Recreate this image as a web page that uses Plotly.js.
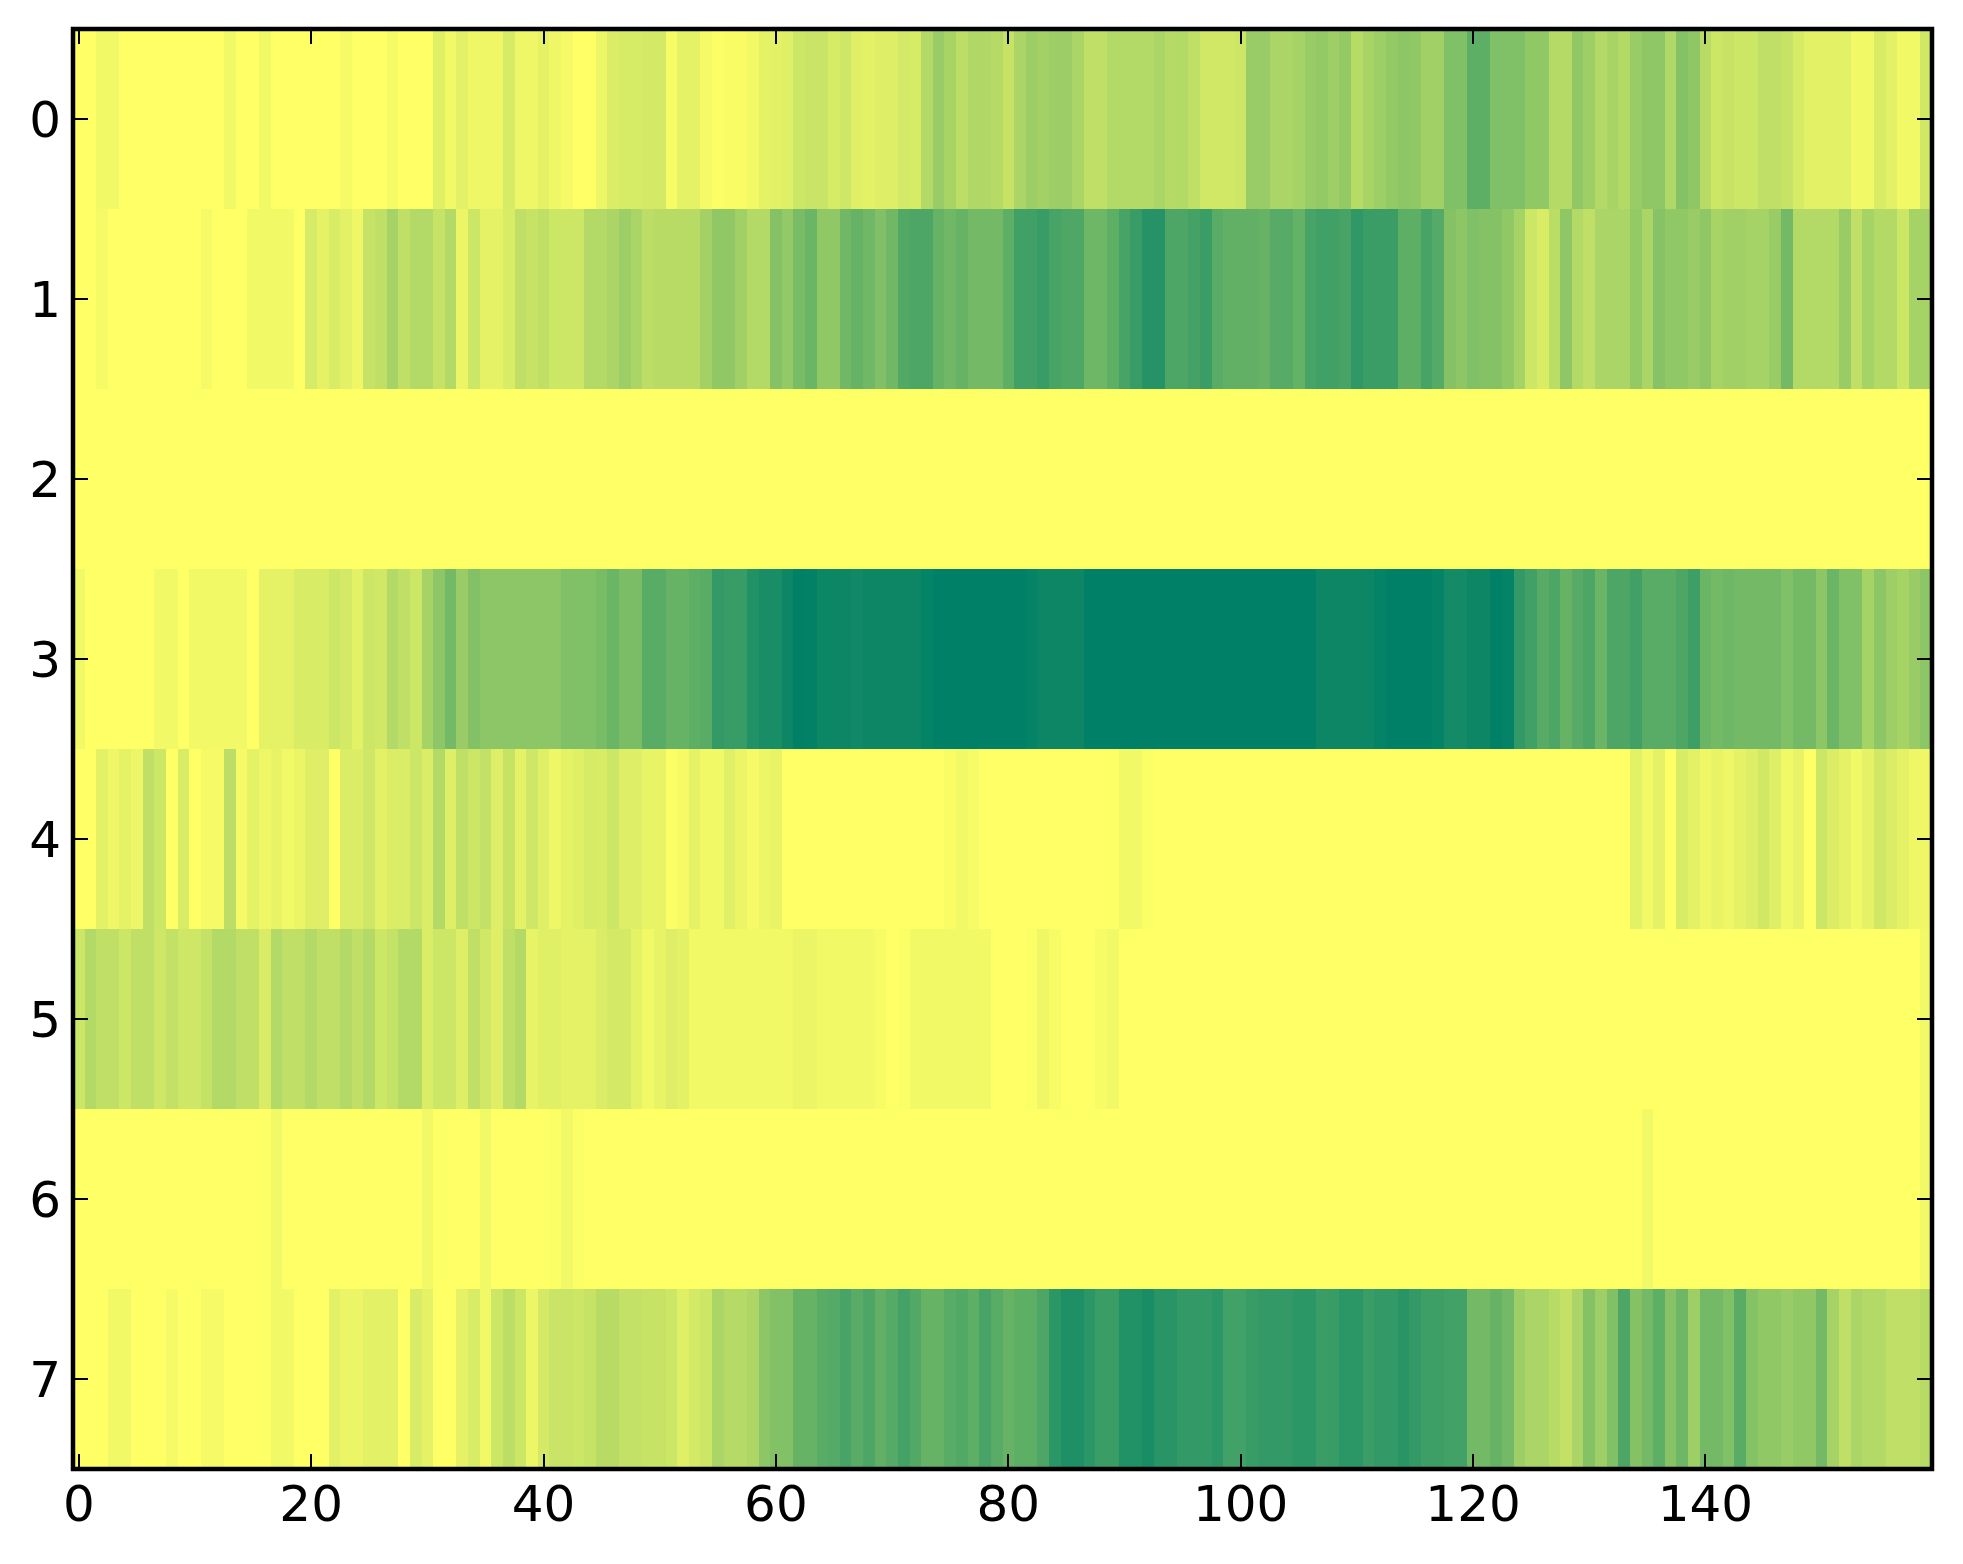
<!DOCTYPE html>
<html>
<head>
<meta charset="utf-8">
<script src="https://cdn.plot.ly/plotly-3.0.1.min.js"></script>
<style>html,body{margin:0;padding:0;background:#fff}</style>
</head>
<body>
<div id="chart" style="width:1963px;height:1564px"></div>
<script>
const columns = Array.from({length: 160}, (_, i) => i);
const rowLabels = [0, 1, 2, 3, 4, 5, 6, 7];
const xTicks = [0, 20, 40, 60, 80, 100, 120, 140];

const row0 = [
0,0,.05,.05,0,0,0,0,0,0,
0,0,0,.05,0,0,.05,0,0,0,
0,0,0,.04,0,0,0,.04,0,0,
0,.12,.05,.11,.06,.06,.06,.16,.06,.06,
.1,.06,.04,0,0,.07,.14,.16,.16,.17,
.17,.03,.1,.1,.04,.01,.02,.02,.05,.1,
.11,.12,.2,.21,.21,.16,.19,.12,.11,.13,
.13,.17,.16,.3,.4,.34,.26,.31,.31,.29,
.22,.33,.39,.36,.39,.39,.33,.25,.25,.3,
.3,.3,.3,.33,.29,.3,.25,.18,.18,.18,
.2,.4,.4,.33,.33,.35,.4,.42,.38,.42,
.28,.34,.38,.42,.45,.43,.37,.37,.5,.5,
.63,.63,.5,.5,.5,.43,.43,.29,.29,.43,
.38,.3,.34,.3,.4,.44,.44,.31,.48,.44,
.28,.2,.22,.2,.2,.25,.25,.22,.16,.11,
.11,.11,.11,.05,.05,.15,.11,.05,.05,.18];
const row1 = [
0,0,.04,0,0,0,0,0,0,0,
0,.04,0,0,0,.05,.05,.05,.05,0,
.16,.1,.15,.11,.06,.22,.25,.35,.25,.3,
.3,.22,.3,.08,.2,.1,.1,.15,.25,.22,
.25,.2,.2,.2,.3,.3,.33,.38,.33,.26,
.28,.28,.28,.28,.36,.43,.43,.37,.3,.3,
.48,.42,.53,.58,.43,.43,.56,.6,.56,.5,
.56,.68,.7,.7,.6,.56,.6,.55,.55,.55,
.63,.75,.75,.78,.72,.69,.69,.57,.57,.63,
.72,.78,.85,.85,.7,.7,.73,.77,.65,.62,
.62,.62,.6,.66,.66,.61,.72,.75,.75,.72,
.81,.77,.77,.77,.63,.63,.72,.67,.48,.45,
.5,.48,.48,.43,.35,.2,.15,.27,.44,.3,
.25,.33,.33,.33,.42,.33,.47,.43,.43,.4,
.44,.34,.37,.37,.35,.35,.4,.55,.3,.3,
.3,.3,.4,.25,.35,.3,.3,.2,.35,.35];
const row2 = [
0,0,0,0,0,0,0,0,0,0,
0,0,0,0,0,0,0,0,0,0,
0,0,0,0,0,0,0,0,0,0,
0,0,0,0,0,0,0,0,0,0,
0,0,0,0,0,0,0,0,0,0,
0,0,0,0,0,0,0,0,0,0,
0,0,0,0,0,0,0,0,0,0,
0,0,0,0,0,0,0,0,0,0,
0,0,0,0,0,0,0,0,0,0,
0,0,0,0,0,0,0,0,0,0,
0,0,0,0,0,0,0,0,0,0,
0,0,0,0,0,0,0,0,0,0,
0,0,0,0,0,0,0,0,0,0,
0,0,0,0,0,0,0,0,0,0,
0,0,0,0,0,0,0,0,0,0,
0,0,0,0,0,0,0,0,0,0];
const row3 = [
.05,0,0,0,0,0,0,.05,.05,0,
.05,.05,.05,.05,.05,0,.1,.1,.1,.15,
.15,.15,.2,.17,.11,.2,.18,.3,.25,.2,
.35,.45,.55,.4,.49,.45,.45,.45,.45,.45,
.45,.45,.5,.5,.5,.53,.58,.52,.52,.65,
.65,.6,.6,.63,.65,.8,.78,.78,.87,.9,
.9,.95,1,.99,.95,.95,.95,.93,.95,.95,
.95,.95,.95,.98,1,1,1,1,1,1,
1,1,.98,.95,.95,.95,.95,1,1,1,
1,1,1,1,1,1,1,1,1,1,
1,1,1,1,1,1,1,.95,.95,.95,
.95,.95,.98,1,1,1,1,.98,.92,.92,
.95,.95,1,.98,.8,.75,.66,.7,.6,.66,
.7,.58,.7,.7,.75,.65,.65,.65,.7,.76,
.58,.55,.57,.55,.55,.55,.55,.5,.55,.55,
.45,.58,.5,.5,.35,.45,.38,.35,.4,.45];
const row4 = [
0,0,.11,.06,.1,.07,.25,.2,0,.15,
0,.04,.04,.26,.04,.1,.06,.09,.05,.08,
.13,.13,0,.14,.14,.19,.11,.14,.14,.2,
.14,.3,.13,.25,.2,.24,.13,.22,.1,.19,
.12,.06,.1,.12,.16,.15,.2,.13,.13,.09,
.09,.01,.04,.1,.05,.05,.12,.08,.04,.07,
.09,0,0,0,0,0,0,0,0,0,
0,0,0,0,0,.02,.05,.03,0,0,
0,0,0,0,0,0,0,0,0,0,
.05,.05,.01,0,0,0,0,0,0,0,
0,0,0,0,0,0,0,0,0,0,
0,0,0,0,0,0,0,0,0,0,
0,0,0,0,0,0,0,0,0,0,
0,0,0,0,.11,.05,.1,0,.15,.11,
.06,.09,.06,.1,.13,.18,.13,.05,.09,0,
.2,.14,.1,.05,.1,.18,.14,.1,.06,.06];
const row5 = [
.2,.3,.25,.25,.2,.25,.25,.19,.24,.19,
.19,.23,.3,.3,.25,.25,.15,.3,.25,.25,
.3,.25,.25,.3,.25,.3,.2,.23,.3,.3,
.14,.2,.2,.13,.25,.18,.13,.25,.3,.09,
.12,.12,.1,.1,.1,.14,.17,.17,.1,.05,
.09,.13,.11,.05,.05,.05,.05,.05,.05,.05,
.05,.05,.08,.08,.05,.05,.05,.05,.05,.03,
0,.01,.05,.05,.05,.05,.05,.05,.05,0,
0,0,.01,.06,.03,0,0,0,.03,.05,
0,0,0,0,0,0,0,0,0,0,
0,0,0,0,0,0,0,0,0,0,
0,0,0,0,0,0,0,0,0,0,
0,0,0,0,0,0,0,0,0,0,
0,0,0,0,0,0,0,0,0,0,
0,0,0,0,0,0,0,0,0,0,
0,0,0,0,0,0,0,0,0,.05];
const row6 = [
0,0,0,0,0,0,0,0,0,0,
0,0,0,0,0,0,0,.05,0,0,
0,0,0,0,0,0,0,0,0,0,
.05,0,0,0,0,.05,0,0,0,0,
0,.01,.05,.01,0,0,0,0,0,0,
0,0,0,0,0,0,0,0,0,0,
0,0,0,0,0,0,0,0,0,0,
0,0,0,0,0,0,0,0,0,0,
0,0,0,0,0,0,0,0,0,0,
0,0,0,0,0,0,0,0,0,0,
0,0,0,0,0,0,0,0,0,0,
0,0,0,0,0,0,0,0,0,0,
0,0,0,0,0,0,0,0,0,0,
0,0,0,0,0,.05,0,0,0,0,
0,0,0,0,0,0,0,0,0,0,
0,0,0,0,0,0,0,0,0,.05];
const row7 = [
0,0,0,.05,.05,0,0,0,.04,0,
0,.04,.04,0,0,0,0,.05,.05,0,
0,0,.11,.08,.08,.11,.11,.11,0,.15,
.1,0,0,.1,.15,.05,.2,.26,.2,.07,
.17,.21,.21,.2,.22,.28,.28,.24,.24,.22,
.22,.2,.12,.17,.2,.33,.29,.29,.32,.45,
.49,.49,.6,.6,.65,.67,.72,.65,.7,.62,
.67,.73,.68,.6,.6,.65,.68,.63,.72,.65,
.6,.63,.63,.7,.83,.88,.88,.83,.77,.77,
.87,.87,.9,.84,.84,.8,.8,.8,.83,.74,
.74,.78,.8,.8,.8,.83,.83,.77,.78,.83,
.83,.77,.8,.8,.84,.8,.76,.76,.74,.74,
.55,.55,.6,.55,.38,.33,.33,.28,.24,.33,
.48,.38,.5,.7,.48,.55,.63,.47,.57,.38,
.55,.55,.5,.65,.48,.43,.43,.4,.43,.43,
.55,.35,.25,.33,.3,.3,.25,.25,.25,.28];

const axisFont = {family: '"DejaVu Sans", sans-serif', size: 50, color: '#000'};

Plotly.newPlot('chart', [{
  type: 'heatmap',
  x: columns,
  y: rowLabels,
  z: [row0, row1, row2, row3, row4, row5, row6, row7],
  zmin: 0,
  zmax: 1,
  zsmooth: false,
  showscale: false,
  colorscale: [[0, 'rgb(255,255,102)'], [1, 'rgb(0,128,102)']],
  hoverinfo: 'skip'
}], {
  width: 1963,
  height: 1564,
  margin: {l: 73, r: 31, t: 29, b: 95, pad: 0},
  paper_bgcolor: '#fff',
  plot_bgcolor: '#fff',
  shapes: [{
    type: 'rect', xref: 'paper', yref: 'paper', x0: 0, x1: 1, y0: 0, y1: 1,
    line: {color: '#000', width: 4.5}, fillcolor: 'rgba(0,0,0,0)', layer: 'above'
  }],
  xaxis: {
    range: [-0.5, 159.5], tickmode: 'array', tickvals: xTicks, ticktext: xTicks.map(String),
    ticks: 'inside', ticklen: 15, tickwidth: 2, tickcolor: '#000',
    showline: false, mirror: 'allticks', ticklabelstandoff: 1,
    showgrid: false, zeroline: false, tickfont: axisFont
  },
  yaxis: {
    range: [7.5, -0.5], tickmode: 'array', tickvals: rowLabels, ticktext: rowLabels.map(String),
    ticks: 'inside', ticklen: 15, tickwidth: 2, tickcolor: '#000',
    showline: false, mirror: 'allticks', ticklabelstandoff: 11,
    showgrid: false, zeroline: false, tickfont: axisFont
  }
}, {displayModeBar: false, staticPlot: true});
</script>
</body>
</html>
